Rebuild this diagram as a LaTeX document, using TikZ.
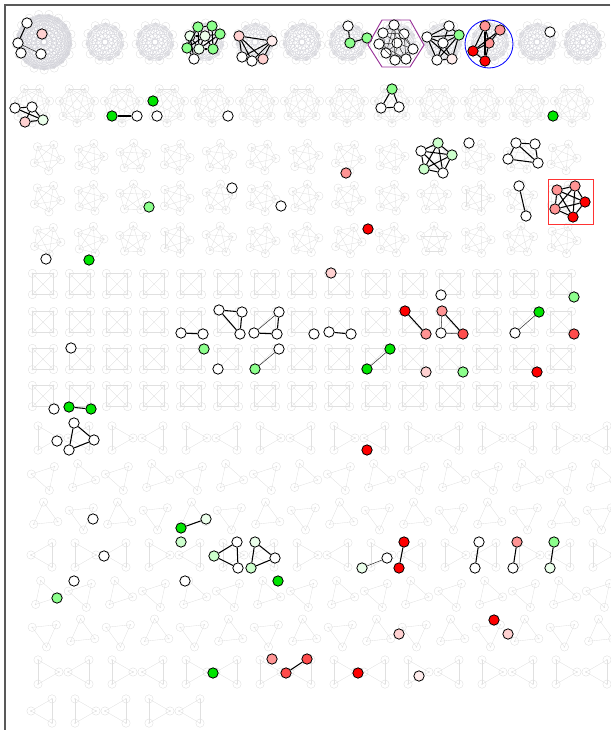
\documentclass[tikz,border=0pt]{standalone}
\usepackage{tikz}
\usetikzlibrary{calc}

\colorlet{bgline}{black!12}
\colorlet{denseline}{blue!15!black!18}

% faint complete graph: centre x, centre y, vertices, radius, turn
\newcommand{\bggraph}[5]{%
  \foreach \k in {1,...,#3}
    \node[bgnode] (g\k) at ($(#1,#2)+({#5+360*\k/#3}:#4)$) {};
  \foreach \k in {1,...,#3}
    \foreach \m in {1,...,#3}
      {\ifnum\k<\m \draw[bgedge] (g\k.center) -- (g\m.center);\fi}
  \foreach \k in {1,...,#3}
    \fill[bgline] (g\k.center) circle (0.8);
}

\begin{document}
\begin{tikzpicture}[
  x=0.03cm, y=-0.03cm,
  % ---- background ------------------------------------------------------------
  bgnode/.style={circle, draw=bgline, line width=0.35pt, minimum size=0.25cm, inner sep=0pt},
  bgedge/.style={draw=bgline, line width=0.3pt},
  frame/.style={draw=black!65, line width=1.1pt},
  % ---- highlighted vertices --------------------------------------------------
  vtx/.style={circle, draw=black, line width=0.7pt, fill=white, minimum size=0.31cm, inner sep=0pt},
  pinkish/.style={vtx, fill=red!18},
  faintpink/.style={vtx, fill=red!7},
  salmon/.style={vtx, fill=red!42},
  warm/.style={vtx, fill=red!70},
  hot/.style={vtx, fill=red},
  lime/.style={vtx, fill=green!90!black},
  mint/.style={vtx, fill=green!45},
  pale/.style={vtx, fill=green!20},
  faintgreen/.style={vtx, fill=green!8},
  % ---- edges and groups ------------------------------------------------------
  link/.style={draw=black, line width=0.9pt},
  thinlink/.style={draw=black!80, line width=0.45pt},
  hexgroup/.style={draw=violet!80, line width=0.8pt},
  circgroup/.style={draw=blue, line width=0.7pt},
  boxgroup/.style={draw=red!80, line width=0.7pt},
]
\useasboundingbox (0,0) rectangle (610,730);

% ---- background graphs (drawn first) ---------------------------------------
\begin{scope}[bgedge/.append style={draw=denseline}]
  \bggraph{44}{42}{17}{28}{5}
  \foreach \cx in {105,155,205,255,302,348,397,443,490,537,583}
    {\bggraph{\cx}{42}{11}{19}{10}}
\end{scope}
\foreach \c in {0,...,12}
  {\bggraph{32+45*\c}{105}{7}{18}{90}}
\foreach \ry [count=\r] in {157,198,240}
  \foreach \c in {0,...,12}
    {\bggraph{47+43*\c}{\ry}{5}{14}{-90+mod(17*\c+29*\r,30)}}
\foreach \ry in {284,322,359,396}
  \foreach \c in {0,...,14}
    {\bggraph{43+37*\c}{\ry}{4}{15}{45}}
\foreach \r in {0,...,6}
  \foreach \c in {0,...,15}
    {\bggraph{45+37*\c}{438+39*\r}{3}{14}{180*mod(\c+\r,2)+12*mod(3*\c+\r,3)}}
\foreach \c in {0,...,4}
  {\bggraph{45+37*\c}{711}{3}{14}{180*mod(\c+1,2)}}

\draw[frame] (610,5) -- (5,5) -- (5,730);

% ---- row 1 -------------------------------------------------------------------
\node[vtx] (a1) at (27,23) {};
\node[pinkish] (a2) at (42,34) {};
\node[vtx] (a3) at (18,43) {};
\node[vtx] (a4) at (21,53) {};
\node[vtx] (a5) at (41,54) {};
\draw[link] (a1) -- (a3);
\draw[thinlink] (a3) -- (a5);

\node[mint] (b1) at (198,27) {};
\node[mint] (b2) at (212,26) {};
\node[mint] (b3) at (220,34) {};
\node[faintgreen] (b4) at (190,36) {};
\node[faintgreen] (b5) at (205,36) {};
\node[mint] (b6) at (187,48) {};
\node[faintgreen] (b7) at (199,49) {};
\node[mint] (b8) at (213,49) {};
\node[vtx] (b9) at (194,59) {};
\foreach \u/\v in {b1/b2,b1/b4,b1/b5,b1/b7,b2/b3,b2/b5,b2/b8,b3/b5,b3/b8,b4/b5,b4/b6,
  b4/b7,b4/b9,b5/b6,b5/b7,b5/b8,b6/b7,b6/b9,b7/b8,b7/b9,b1/b6,b3/b7}
  {\draw[link] (\u) -- (\v);}

\node[pinkish] (c1) at (239,36) {};
\node[faintpink] (c2) at (272,41) {};
\node[vtx] (c3) at (242,57) {};
\node[vtx] (c4) at (252,61) {};
\node[pinkish] (c5) at (263,59) {};
\foreach \u/\v in {c1/c2,c1/c3,c1/c4,c1/c5,c2/c3,c2/c4,c2/c5,c3/c4,c4/c5}
  {\draw[link] (\u) -- (\v);}

\node[vtx] (d1) at (348,26) {};
\node[mint] (d2) at (350,43) {};
\node[mint] (d3) at (367,38) {};
\draw[link] (d1) -- (d2);   \draw[link] (d2) -- (d3);

\draw[hexgroup] (382,20) -- (410,20) -- (424,45) -- (410,67) -- (382,67) -- (368,45) -- cycle;
\foreach \n/\px/\py in {e1/394/25,e2/383/33,e3/404/34,e4/379/44,e5/397/43,e6/386/53,
  e7/413/49,e8/395/60,e9/406/59}
  {\node[vtx] (\n) at (\px,\py) {};}
\foreach \u/\v in {e1/e2,e1/e3,e1/e5,e1/e6,e1/e7,e1/e8,e2/e4,e2/e5,e2/e6,e3/e5,e3/e7,e3/e9,
  e4/e5,e4/e6,e4/e8,e5/e6,e5/e7,e5/e8,e5/e9,e6/e8,e6/e9,e7/e9,e7/e8,e2/e3,e4/e9}
  {\draw[thinlink] (\u) -- (\v);}

\node[vtx] (f1) at (449,26) {};
\node[vtx] (f2) at (427,37) {};
\node[mint] (f3) at (459,35) {};
\node[vtx] (f4) at (443,43) {};
\node[vtx] (f5) at (437,60) {};
\node[faintpink] (f6) at (452,59) {};
\foreach \u/\v in {f1/f2,f1/f3,f1/f4,f2/f3,f2/f4,f2/f5,f2/f6,f3/f4,f3/f5,f4/f5,f5/f6,f3/f6,f4/f6}
  {\draw[link] (\u) -- (\v);}

\draw[circgroup] (489,44) circle (24);
\node[salmon] (g1) at (485,26) {};
\node[salmon] (g2) at (500,30) {};
\node[salmon] (g3) at (489,43) {};
\node[hot] (g4) at (473,51) {};
\node[hot] (g5) at (485,61) {};
\foreach \u/\v in {g1/g3,g1/g4,g1/g5,g2/g3,g2/g4,g3/g4,g3/g5,g4/g5}
  {\draw[link] (\u) -- (\v);}

\node[vtx] (h1) at (550,32) {};

% ---- row 2 -------------------------------------------------------------------
\node[vtx] (i1) at (15,108) {};
\node[vtx] (i2) at (32,107) {};
\node[pinkish] (i3) at (25,122) {};
\node[faintgreen] (i4) at (43,120) {};
\foreach \u/\v in {i1/i2,i1/i4,i2/i3,i2/i4,i3/i4}
  {\draw[link] (\u) -- (\v);}

\node[lime] (j1) at (112,116) {};
\node[vtx] (j2) at (137,116) {};
\draw[link] (j1) -- (j2);
\node[lime] (j3) at (153,101) {};
\node[vtx] (j4) at (157,116) {};
\node[vtx] (j5) at (228,116) {};

\node[mint] (k1) at (392,89) {};
\node[vtx] (k2) at (381,108) {};
\node[vtx] (k3) at (399,107) {};
\draw[link] (k1) -- (k2) -- (k3) -- (k1);
\node[lime] (k4) at (553,116) {};

% ---- pentagon rows -----------------------------------------------------------
\node[mint] (l1) at (149,207) {};
\node[vtx] (l2) at (232,188) {};
\node[vtx] (l3) at (281,206) {};
\node[vtx] (l4) at (46,259) {};
\node[lime] (l5) at (89,260) {};
\node[salmon] (m1) at (346,173) {};

\node[pale] (n1) at (438,143) {};
\node[vtx] (n2) at (421,151) {};
\node[pale] (n3) at (452,155) {};
\node[pale] (n4) at (424,169) {};
\node[vtx] (n5) at (443,173) {};
\foreach \u/\v in {n1/n2,n1/n3,n1/n4,n1/n5,n2/n3,n2/n4,n2/n5,n3/n4,n3/n5,n4/n5}
  {\draw[link] (\u) -- (\v);}
\node[vtx] (o1) at (469,143) {};

\node[vtx] (p1) at (516,143) {};
\node[vtx] (p2) at (535,144) {};
\node[vtx] (p3) at (508,159) {};
\node[vtx] (p4) at (538,163) {};
\foreach \u/\v in {p1/p2,p1/p3,p1/p4,p2/p4,p3/p4}
  {\draw[link] (\u) -- (\v);}

\node[vtx] (q1) at (519,186) {};
\node[vtx] (q2) at (526,216) {};
\draw[link] (q1) -- (q2);

\draw[boxgroup] (548,179) rectangle (593,224);
\node[salmon] (r1) at (557,190) {};
\node[salmon] (r2) at (575,186) {};
\node[hot] (r3) at (585,202) {};
\node[salmon] (r4) at (555,209) {};
\node[hot] (r5) at (573,217) {};
\foreach \u/\v in {r1/r2,r1/r3,r1/r4,r1/r5,r2/r3,r2/r4,r2/r5,r3/r4,r3/r5,r4/r5}
  {\draw[link] (\u) -- (\v);}
\node[hot] (s1) at (368,229) {};

% ---- square rows -------------------------------------------------------------
\node[vtx] (t1) at (71,348) {};
\node[vtx] (t2) at (181,333) {};
\node[vtx] (t3) at (203,334) {};
\draw[link] (t2) -- (t3);
\node[vtx] (t4) at (219,310) {};
\node[vtx] (t5) at (242,312) {};
\node[vtx] (t6) at (240,334) {};
\draw[link] (t4) -- (t5) -- (t6) -- (t4);
\node[vtx] (t7) at (254,333) {};
\node[vtx] (t8) at (279,312) {};
\node[vtx] (t9) at (277,334) {};
\draw[thinlink] (t7) -- (t8);
\draw[link] (t8) -- (t9) -- (t7);
\node[mint] (t10) at (204,349) {};
\node[vtx] (t11) at (218,369) {};
\node[mint] (t12) at (255,369) {};
\node[vtx] (t13) at (279,349) {};
\draw[thinlink] (t12) -- (t13);

\node[pinkish] (u1) at (331,273) {};
\node[vtx] (u2) at (314,334) {};
\node[vtx] (u3) at (329,332) {};
\node[vtx] (u4) at (351,334) {};
\draw[link] (u3) -- (u4);
\node[lime] (u5) at (390,349) {};
\node[lime] (u6) at (367,369) {};
\draw[thinlink] (u5) -- (u6);
\node[hot] (u7) at (405,311) {};
\node[salmon] (u8) at (426,334) {};
\draw[link] (u7) -- (u8);
\node[vtx] (u9) at (441,295) {};
\node[salmon] (u10) at (442,311) {};
\node[vtx] (u11) at (441,333) {};
\node[warm] (u12) at (463,334) {};
\draw[thinlink] (u10) -- (u11);
\draw[link] (u10) -- (u12);
\draw[thinlink] (u11) -- (u12);
\node[pinkish] (u13) at (426,372) {};
\node[mint] (u14) at (463,372) {};
\node[lime] (u15) at (539,312) {};
\node[vtx] (u16) at (515,333) {};
\draw[thinlink] (u15) -- (u16);
\node[mint] (u17) at (574,297) {};
\node[warm] (u18) at (574,334) {};
\node[hot] (u19) at (537,372) {};

% ---- triangle rows -----------------------------------------------------------
\node[vtx] (v1) at (54,409) {};
\node[lime] (v2) at (69,407) {};
\node[lime] (v3) at (91,409) {};
\draw[link] (v2) -- (v3);
\node[vtx] (v4) at (74,423) {};
\node[vtx] (v5) at (94,440) {};
\node[vtx] (v6) at (69,450) {};
\draw[link] (v4) -- (v5) -- (v6) -- (v4);
\node[vtx] (v7) at (57,441) {};
\node[hot] (v8) at (367,450) {};

\node[vtx] (w1) at (93,519) {};
\node[lime] (w2) at (181,528) {};
\node[faintgreen] (w3) at (206,519) {};
\draw[link] (w2) -- (w3);
\node[pale] (w4) at (181,542) {};
\node[vtx] (w5) at (104,556) {};
\node[vtx] (w6) at (237,542) {};
\node[pale] (w7) at (214,556) {};
\node[vtx] (w8) at (238,568) {};
\draw[link] (w6) -- (w7) -- (w8) -- (w6);
\node[faintgreen] (w9) at (255,542) {};
\node[vtx] (w10) at (275,558) {};
\node[pale] (w11) at (251,568) {};
\draw[link] (w9) -- (w10) -- (w11) -- (w9);
\node[vtx] (w12) at (74,581) {};
\node[vtx] (w13) at (185,581) {};
\node[lime] (w14) at (278,581) {};
\node[mint] (w15) at (57,598) {};

\node[faintgreen] (x1) at (362,568) {};
\node[vtx] (x2) at (387,558) {};
\draw[thinlink] (x1) -- (x2);
\node[hot] (x3) at (404,542) {};
\node[hot] (x4) at (399,568) {};
\draw[link] (x3) -- (x4);
\node[vtx] (x5) at (479,542) {};
\node[vtx] (x6) at (475,568) {};
\draw[link] (x5) -- (x6);
\node[salmon] (x7) at (517,542) {};
\node[vtx] (x8) at (513,568) {};
\draw[link] (x7) -- (x8);
\node[mint] (x9) at (554,542) {};
\node[faintgreen] (x10) at (550,568) {};
\draw[link] (x9) -- (x10);

\node[hot] (y1) at (494,620) {};
\node[pinkish] (y2) at (508,634) {};
\node[pinkish] (y3) at (399,634) {};
\node[lime] (y4) at (213,673) {};
\node[salmon] (y5) at (272,659) {};
\node[warm] (y6) at (286,673) {};
\node[warm] (y7) at (307,659) {};
\draw[link] (y6) -- (y7);
\node[hot] (y8) at (358,673) {};
\node[faintpink] (y9) at (419,676) {};

\end{tikzpicture}
\end{document}
